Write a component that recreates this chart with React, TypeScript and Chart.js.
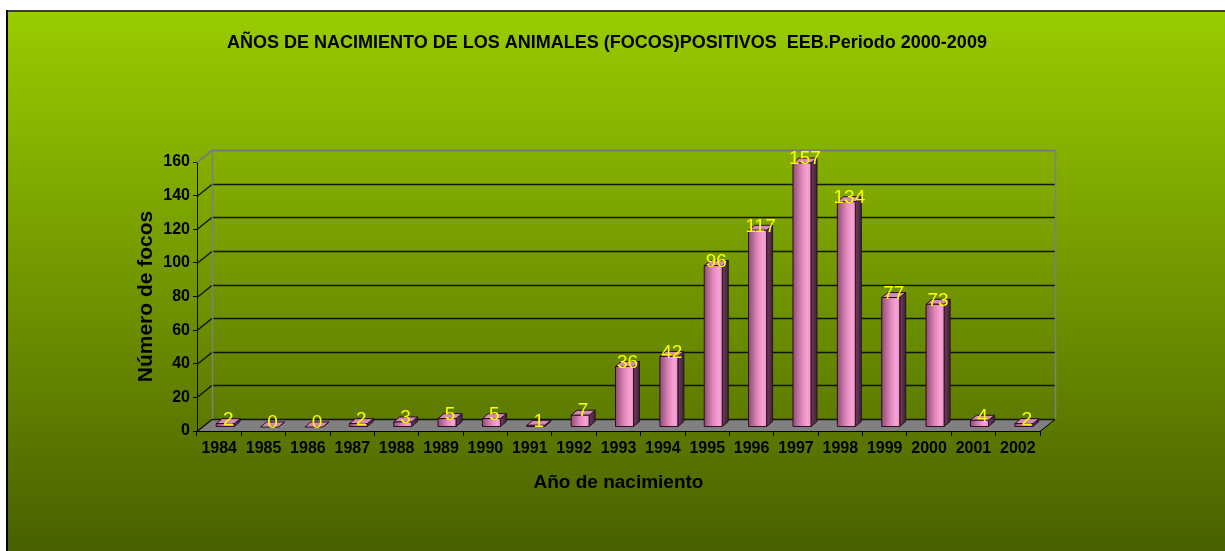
import React, { useEffect, useRef } from 'react';
import { Chart, registerables } from 'chart.js';

Chart.register(...registerables);

const years = ['1984', '1985', '1986', '1987', '1988', '1989', '1990', '1991', '1992', '1993', '1994', '1995', '1996', '1997', '1998', '1999', '2000', '2001', '2002'];
const focos = [2, 0, 0, 2, 3, 5, 5, 1, 7, 36, 42, 96, 117, 157, 134, 77, 73, 4, 2];
const yMin = 0;
const yMax = 160;
const yStep = 20;
const chartTitle = 'AÑOS DE NACIMIENTO DE LOS ANIMALES (FOCOS)POSITIVOS  EEB.Periodo 2000-2009';
const yTitle = 'Número de focos';
const xTitle = 'Año de nacimiento';

const FONT = "'Liberation Sans', Arial, sans-serif";
const WALL_DX = 15;
const WALL_DY = -12;
const BAR_OX = 6;
const BAR_OY = -4;
const DEPTH_X = 6;
const DEPTH_Y = -5;
const PAD_RIGHT = 11;

const threeD = {
  id: 'threeD',
  beforeDraw(chart: any) {
    const { ctx, width, height } = chart;
    ctx.save();
    ctx.fillStyle = '#ffffff';
    ctx.fillRect(0, 0, width, height);
    const g = ctx.createLinearGradient(0, 12, 0, height);
    g.addColorStop(0, '#99cc00');
    g.addColorStop(1, '#4a6000');
    ctx.fillStyle = g;
    ctx.fillRect(8, 12, width - 8, height - 12);
    ctx.fillStyle = '#3c3c3c';
    ctx.fillRect(7, 10, width - 7, 2);
    ctx.fillStyle = '#000000';
    ctx.fillRect(6, 10, 2, height - 10);
    ctx.restore();
  },
  beforeDatasetsDraw(chart: any) {
    const { ctx, chartArea: a, scales } = chart;
    const y = scales.y;
    ctx.save();
    ctx.beginPath();
    ctx.moveTo(a.left, a.bottom);
    ctx.lineTo(a.right, a.bottom);
    ctx.lineTo(a.right + WALL_DX, a.bottom + WALL_DY);
    ctx.lineTo(a.left + WALL_DX, a.bottom + WALL_DY);
    ctx.closePath();
    ctx.fillStyle = '#808080';
    ctx.fill();
    y.ticks.forEach((t: any) => {
      const py = Math.round(y.getPixelForValue(t.value)) + 0.5;
      const isTop = t.value === y.max;
      ctx.strokeStyle = isTop ? '#7a7a7a' : 'rgba(0,0,0,0.85)';
      ctx.lineWidth = isTop ? 2 : 1.5;
      ctx.beginPath();
      ctx.moveTo(a.left, py);
      ctx.lineTo(a.left + WALL_DX, py + WALL_DY);
      ctx.lineTo(a.right + WALL_DX, py + WALL_DY);
      ctx.stroke();
    });
    ctx.strokeStyle = '#808080';
    ctx.lineWidth = 1.5;
    const topY = y.getPixelForValue(y.max) + WALL_DY;
    const botY = a.bottom + WALL_DY;
    ctx.beginPath();
    ctx.moveTo(a.left + WALL_DX + 0.5, topY);
    ctx.lineTo(a.left + WALL_DX + 0.5, botY);
    ctx.moveTo(a.right + WALL_DX + 0.5, topY);
    ctx.lineTo(a.right + WALL_DX + 0.5, botY);
    ctx.stroke();
    ctx.strokeStyle = '#000000';
    ctx.lineWidth = 1;
    ctx.beginPath();
    ctx.moveTo(a.left, a.bottom + 0.5);
    ctx.lineTo(a.right, a.bottom + 0.5);
    ctx.lineTo(a.right + WALL_DX, a.bottom + WALL_DY + 0.5);
    ctx.stroke();
    ctx.restore();
  },
  afterDatasetsDraw(chart: any) {
    const { ctx } = chart;
    const meta = chart.getDatasetMeta(0);
    ctx.save();
    const tops: any[] = [];
    meta.data.forEach((el: any, i: number) => {
      const p = el.getProps(['x', 'y', 'base', 'width'], true);
      const l = p.x - p.width / 2 + BAR_OX;
      const r = p.x + p.width / 2 + BAR_OX;
      const t = p.y + BAR_OY;
      const b = p.base + BAR_OY;
      ctx.lineWidth = 1;
      ctx.strokeStyle = '#2a1020';
      ctx.lineJoin = 'round';
      const sg = ctx.createLinearGradient(r, 0, r + DEPTH_X, 0);
      sg.addColorStop(0, '#6e3d5c');
      sg.addColorStop(1, '#3e2234');
      ctx.fillStyle = sg;
      ctx.beginPath();
      ctx.moveTo(r, b);
      ctx.lineTo(r + DEPTH_X, b + DEPTH_Y);
      ctx.lineTo(r + DEPTH_X, t + DEPTH_Y);
      ctx.lineTo(r, t);
      ctx.closePath();
      ctx.fill();
      ctx.stroke();
      ctx.fillStyle = '#d58ab6';
      ctx.beginPath();
      ctx.moveTo(l, t);
      ctx.lineTo(r, t);
      ctx.lineTo(r + DEPTH_X, t + DEPTH_Y);
      ctx.lineTo(l + DEPTH_X, t + DEPTH_Y);
      ctx.closePath();
      ctx.fill();
      ctx.stroke();
      if (b - t > 0.5) {
        const fg = ctx.createLinearGradient(l, 0, r, 0);
        fg.addColorStop(0, '#8c4e74');
        fg.addColorStop(0.5, '#e388bd');
        fg.addColorStop(0.8, '#f7a2d4');
        fg.addColorStop(1, '#ec93c6');
        ctx.fillStyle = fg;
        ctx.fillRect(l, t, r - l, b - t);
        ctx.strokeRect(l, t, r - l, b - t);
      }
      tops.push({ x: (l + r) / 2 + 3, y: t - 4, v: focos[i] });
    });
    ctx.fillStyle = '#ffff00';
    ctx.font = `19px ${FONT}`;
    ctx.textAlign = 'center';
    ctx.textBaseline = 'middle';
    tops.forEach((o) => ctx.fillText(String(o.v), o.x, o.y));
    ctx.restore();
  },
};

export default function App() {
  const ref = useRef<HTMLCanvasElement | null>(null);
  useEffect(() => {
    if (!ref.current) return;
    const chart = new Chart(ref.current, {
      type: 'bar',
      data: {
        labels: years,
        datasets: [
          {
            label: yTitle,
            data: focos,
            backgroundColor: 'rgba(0,0,0,0)',
            borderWidth: 0,
            barThickness: 18,
          },
        ],
      },
      options: {
        animation: false,
        responsive: false,
        devicePixelRatio: 1,
        layout: { padding: { top: 30.4, right: PAD_RIGHT, left: 0, bottom: 0 } },
        plugins: {
          legend: { display: false },
          tooltip: { enabled: false },
          title: {
            display: true,
            text: chartTitle,
            fullSize: true,
            color: '#000000',
            font: { family: FONT, size: 18, weight: 'bold' },
            padding: { top: 2, bottom: 108 },
          },
        },
        scales: {
          x: {
            type: 'category',
            offset: true,
            afterFit: (s: any) => {
              s.height = 120;
            },
            grid: { display: true, drawOnChartArea: false, drawTicks: true, tickLength: 5, color: '#000000', offset: true },
            border: { display: true, color: '#000000', width: 1 },
            ticks: { color: '#000000', font: { family: FONT, size: 16, weight: 'bold' }, padding: 3, maxRotation: 0, autoSkip: false },
            title: {
              display: true,
              text: xTitle,
              color: '#000000',
              font: { family: FONT, size: 19, weight: 'bold' },
              padding: { top: 0, bottom: 56.6 },
            },
          },
          y: {
            min: yMin,
            max: yMax,
            afterFit: (s: any) => {
              s.width = 197;
            },
            grid: { display: true, drawOnChartArea: false, drawTicks: true, tickLength: 4, color: '#000000' },
            border: { display: true, color: '#000000', width: 1 },
            ticks: { stepSize: yStep, color: '#000000', font: { family: FONT, size: 16, weight: 'bold' }, padding: 3 },
            title: {
              display: true,
              text: yTitle,
              color: '#000000',
              font: { family: FONT, size: 21, weight: 'bold' },
              padding: { top: 146 - 12.6, bottom: 0 },
            },
          },
          yRight: {
            position: 'right',
            min: yMin,
            max: yMax,
            afterFit: (s: any) => {
              s.width = 1225 - PAD_RIGHT - 1040;
            },
            grid: { display: false },
            border: { display: false },
            ticks: { display: false },
          },
        },
      },
      plugins: [threeD],
    } as any);
    return () => chart.destroy();
  }, []);
  return (
    <div style={{ position: 'absolute', left: 0, top: 0, width: 1225, height: 551 }}>
      <canvas ref={ref} width={1225} height={551} style={{ display: 'block' }} />
    </div>
  );
}
